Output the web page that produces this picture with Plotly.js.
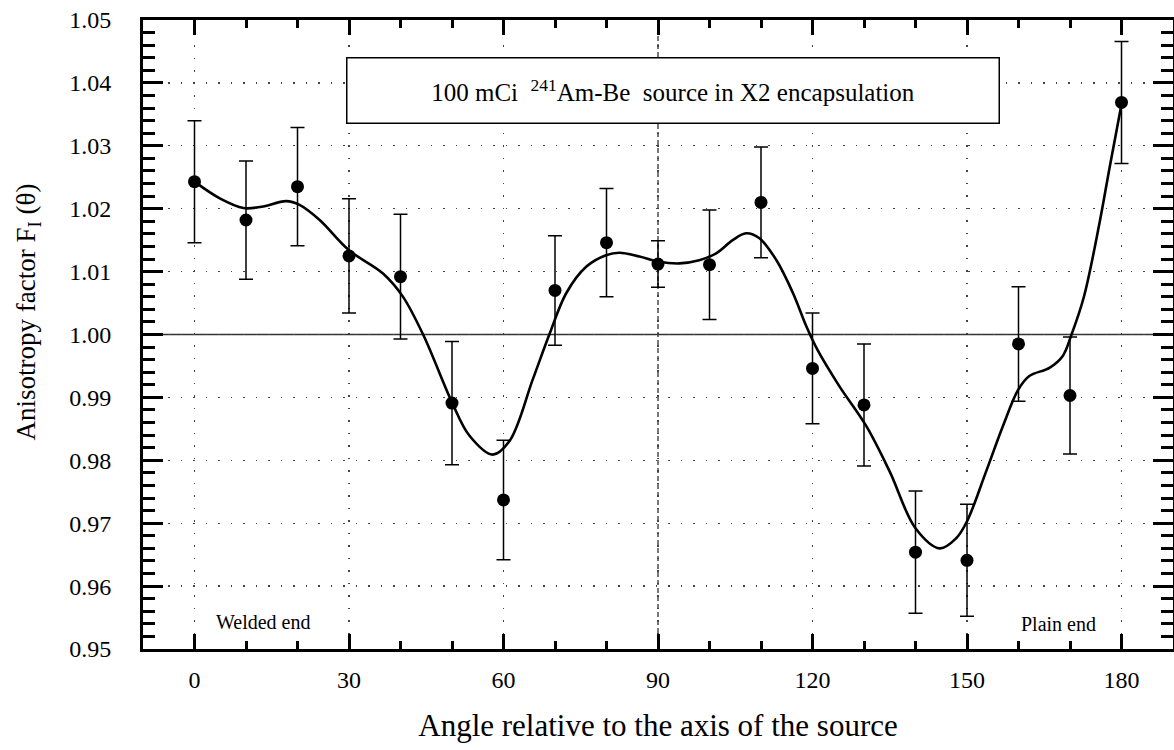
<!DOCTYPE html>
<html>
<head>
<meta charset="utf-8">
<script src="https://cdn.plot.ly/plotly-3.0.1.min.js"></script>
<style>
  body { margin: 0; background: #fff; }
  #chart { width: 1174px; height: 750px; }
</style>
</head>
<body>
<div id="chart"></div>
<script>
// Measured points
const angles = [0, 10, 20, 30, 40, 50, 60, 70, 80, 90, 100, 110, 120, 130, 140, 150, 160, 170, 180];
const factors = [1.0243, 1.0182, 1.0235, 1.0125, 1.0092, 0.9891, 0.9737, 1.0070, 1.0146, 1.0112, 1.0111, 1.0210, 0.9946, 0.9888, 0.9654, 0.9641, 0.9985, 0.9903, 1.0369];
const errors = [0.0097, 0.0094, 0.0094, 0.0091, 0.0099, 0.0098, 0.0095, 0.0087, 0.0086, 0.0037, 0.0087, 0.0088, 0.0088, 0.0097, 0.0097, 0.0089, 0.0091, 0.0093, 0.0097];

// Smooth fitted curve
const fitAngles = [0, 5, 9.5, 13, 17.8, 20.4, 24.3, 30, 36.6, 40.4, 44.5, 50, 53.4, 57.9, 61.2, 65.7, 68.9, 72.2, 76.1, 79.9, 82.5, 86.4, 90, 94.2, 98, 101.3, 104.5, 107.1, 109.7, 113, 116.2, 118.8, 121, 125.2, 130.4, 135, 140, 144.7, 147.9, 150, 153.7, 157, 160, 162.1, 166, 168.6, 170.3, 172.7, 175.7, 177.7, 180];
const fitValues = [1.0243, 1.0216, 1.0201, 1.0203, 1.0212, 1.0206, 1.0182, 1.0134, 1.0097, 1.0061, 0.9998, 0.9892, 0.9839, 0.9809, 0.9831, 0.9929, 1.0000, 1.0066, 1.0108, 1.0126, 1.0130, 1.0124, 1.0116, 1.0113, 1.0118, 1.0129, 1.0150, 1.0161, 1.0153, 1.0118, 1.0066, 1.0013, 0.9975, 0.9918, 0.9855, 0.9782, 0.9692, 0.9660, 0.9676, 0.9703, 0.9782, 0.9855, 0.9913, 0.9934, 0.9947, 0.9966, 1.0000, 1.0060, 1.0176, 1.0266, 1.0366];

// Axis settings
const xRange = [-10, 190];
const xMajorStep = 30;
const xMinorStep = 10;
const yRange = [0.95, 1.05];
const yMajorStep = 0.01;
const yMinorStep = 0.002;

const refAngle = 90;
const refFactor = 1.0;

const titleText = '100 mCi  <sup>241</sup>Am-Be  source in X2 encapsulation';
const xTitle = 'Angle relative to the axis of the source';
const yTitle = 'Anisotropy factor F<sub>I</sub> (θ)';
const leftLabel = 'Welded end';
const rightLabel = 'Plain end';

const serif = 'Liberation Serif';

const traces = [
  { x: fitAngles, y: fitValues, type: 'scatter', mode: 'lines',
    line: { color: '#000', width: 2.6, shape: 'spline', smoothing: 1 }, showlegend: false },
  { x: angles, y: factors, type: 'scatter', mode: 'markers', marker: { color: '#000', size: 13 },
    error_y: { type: 'data', array: errors, visible: true, color: '#000', thickness: 1.5, width: 7 }, showlegend: false }
];

const axisCommon = {
  showline: true, linecolor: '#000', linewidth: 3, mirror: 'allticks',
  ticks: 'inside', tickcolor: '#000', tickwidth: 3,
  showgrid: true, gridcolor: '#444', gridwidth: 1.3, griddash: '1.5px,11px',
  zeroline: false, tickfont: { family: serif, size: 24, color: '#000' }
};

const layout = {
  width: 1174, height: 750, margin: { l: 143, r: 1, t: 20, b: 101 },
  paper_bgcolor: '#fff', plot_bgcolor: '#fff', font: { family: serif, color: '#000' }, showlegend: false,
  xaxis: Object.assign({}, axisCommon, {
    range: xRange, tickmode: 'linear', tick0: 0, dtick: xMajorStep, ticklen: 15, ticklabelstandoff: 7,
    minor: { tick0: 0, dtick: xMinorStep, ticks: 'inside', ticklen: 8, tickwidth: 3, tickcolor: '#000', showgrid: false },
    title: { text: xTitle, font: { family: serif, size: 31, color: '#000' }, standoff: 23 }
  }),
  yaxis: Object.assign({}, axisCommon, {
    range: yRange, tickmode: 'linear', tick0: 0.95, dtick: yMajorStep, tickformat: '.2f', ticklen: 20, ticklabelstandoff: 24,
    minor: { tick0: 0.95, dtick: yMinorStep, ticks: 'inside', ticklen: 12, tickwidth: 3, tickcolor: '#000', showgrid: false }
  }),
  shapes: [
    { type: 'line', xref: 'x', yref: 'paper', x0: refAngle, x1: refAngle, y0: 0, y1: 1,
      line: { color: '#222', width: 1.2, dash: '5px,3px' }, layer: 'below' },
    { type: 'line', xref: 'paper', yref: 'y', x0: 0, x1: 1, y0: refFactor, y1: refFactor,
      line: { color: '#333', width: 1.5 }, layer: 'below' }
  ],
  annotations: [
    { xref: 'paper', yref: 'paper', x: 0.515, y: 0.8887, xanchor: 'center', yanchor: 'middle', text: titleText, showarrow: false,
      font: { family: serif, size: 25, color: '#000' }, bgcolor: '#fff', bordercolor: '#000', borderwidth: 1.5, borderpad: 3, width: 645, height: 58 },
    { xref: 'paper', yref: 'paper', x: 0.1165, y: 0.043, xanchor: 'center', yanchor: 'middle', text: leftLabel, showarrow: false,
      font: { family: serif, size: 20, color: '#000' } },
    { xref: 'paper', yref: 'paper', x: 0.889, y: 0.039, xanchor: 'center', yanchor: 'middle', text: rightLabel, showarrow: false,
      font: { family: serif, size: 20, color: '#000' } },
    { xref: 'paper', yref: 'paper', x: -0.1117, y: 0.329, xanchor: 'center', yanchor: 'bottom', text: yTitle, textangle: -90, showarrow: false,
      font: { family: serif, size: 27, color: '#000' } }
  ]
};

Plotly.newPlot('chart', traces, layout, { displayModeBar: false, staticPlot: true });
</script>
</body>
</html>
